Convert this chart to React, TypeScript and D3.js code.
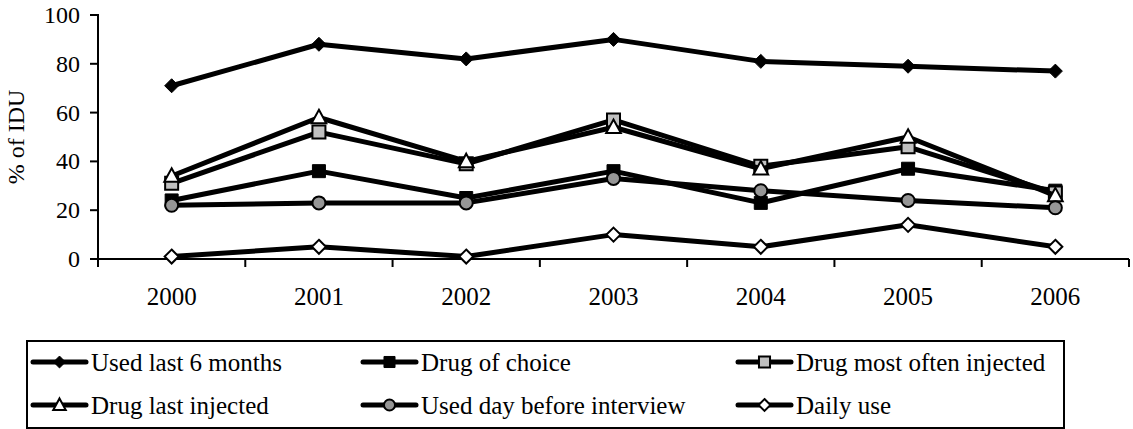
import * as d3 from "d3";

const years = ["2000", "2001", "2002", "2003", "2004", "2005", "2006"];
const yTicks = [0, 20, 40, 60, 80, 100];

const usedLast6Months = [71, 88, 82, 90, 81, 79, 77];
const drugOfChoice = [24, 36, 25, 36, 23, 37, 28];
const drugMostOftenInjected = [31, 52, 39, 57, 38, 46, 27];
const drugLastInjected = [34, 58, 40, 54, 37, 50, 26];
const usedDayBeforeInterview = [22, 23, 23, 33, 28, 24, 21];
const dailyUse = [1, 5, 1, 10, 5, 14, 5];

type Marker = "diamond" | "square" | "triangle" | "circle";

interface Series {
  name: string;
  values: number[];
  marker: Marker;
  fill: string;
}

const series: Series[] = [
  { name: "Used last 6 months", values: usedLast6Months, marker: "diamond", fill: "#000" },
  { name: "Drug of choice", values: drugOfChoice, marker: "square", fill: "#000" },
  { name: "Drug most often injected", values: drugMostOftenInjected, marker: "square", fill: "#c0c0c0" },
  { name: "Drug last injected", values: drugLastInjected, marker: "triangle", fill: "#fff" },
  { name: "Used day before interview", values: usedDayBeforeInterview, marker: "circle", fill: "#969696" },
  { name: "Daily use", values: dailyUse, marker: "diamond", fill: "#fff" },
];

const W = 1133;
const H = 429;
const PLOT = { left: 98, right: 1129, top: 15, bottom: 259 };
const FONT = "Liberation Serif";

// legend placement: three columns, two rows
const LEGEND = { x: 27, y: 341, w: 1037, h: 87 };
const legendCols = [33, 363, 738];
const legendRows = [362, 405];

function markerPath(m: Marker, s: number) {
  if (m === "diamond") {
    return `M0,${-s}L${s},0L0,${s}L${-s},0Z`;
  }
  if (m === "square") {
    return `M${-s},${-s}H${s}V${s}H${-s}Z`;
  }
  if (m === "triangle") {
    const h = s * 1.1;
    return `M0,${-h}L${s * 1.05},${h * 0.75}L${-s * 1.05},${h * 0.75}Z`;
  }
  return d3.arc()({ innerRadius: 0, outerRadius: s, startAngle: 0, endAngle: Math.PI * 2 }) ?? "";
}

function markerSize(m: Marker, legend: boolean) {
  const base = m === "diamond" ? 7 : m === "square" ? 6.5 : m === "triangle" ? 7 : 6.5;
  return legend ? base * 0.85 : base;
}

function MarkerShape({ s, x, y, legend }: { s: Series; x: number; y: number; legend?: boolean }) {
  const filledBlack = s.fill === "#000";
  return (
    <path
      d={markerPath(s.marker, markerSize(s.marker, !!legend))}
      transform={`translate(${x},${y})`}
      fill={s.fill}
      stroke="#000"
      strokeWidth={filledBlack ? 1 : 2}
      strokeLinejoin="miter"
    />
  );
}

export default function App() {
  const x = d3.scaleBand<string>().domain(years).range([PLOT.left, PLOT.right]).padding(0);
  const y = d3.scaleLinear().domain([0, 100]).range([PLOT.bottom, PLOT.top]);
  const cx = (yr: string) => (x(yr) ?? 0) + x.bandwidth() / 2;

  const line = d3
    .line<number>()
    .x((_, i) => cx(years[i]))
    .y((d) => y(d));

  const boundaries = years.map((yr) => x(yr) ?? 0).concat([PLOT.right]);
  const txt = { fontFamily: FONT };

  return (
    <svg width={W} height={H} style={{ position: "absolute", left: 0, top: 0, background: "#fff" }}>
      {/* y axis */}
      <line x1={PLOT.left} x2={PLOT.left} y1={PLOT.top - 1} y2={PLOT.bottom} stroke="#000" strokeWidth={2} />
      {yTicks.map((t) => (
        <g key={t}>
          <line x1={PLOT.left - 8} x2={PLOT.left} y1={y(t)} y2={y(t)} stroke="#000" strokeWidth={2} />
          <text x={80} y={y(t)} dy="0.33em" textAnchor="end" fontSize={24} style={txt}>
            {t}
          </text>
        </g>
      ))}
      <text
        transform={`translate(24,${(PLOT.top + PLOT.bottom) / 2}) rotate(-90)`}
        textAnchor="middle"
        fontSize={24}
        style={txt}
      >
        % of IDU
      </text>

      {/* x axis */}
      <line x1={PLOT.left} x2={PLOT.right} y1={PLOT.bottom} y2={PLOT.bottom} stroke="#000" strokeWidth={2} />
      {boundaries.map((b, i) => (
        <line key={i} x1={b} x2={b} y1={PLOT.bottom} y2={PLOT.bottom + 8} stroke="#000" strokeWidth={2} />
      ))}
      {years.map((yr) => (
        <text key={yr} x={cx(yr)} y={305} textAnchor="middle" fontSize={25} style={txt}>
          {yr}
        </text>
      ))}

      {/* series */}
      {series.map((s) => (
        <g key={s.name}>
          <path d={line(s.values) ?? ""} fill="none" stroke="#000" strokeWidth={5} strokeLinejoin="round" />
          {s.values.map((v, i) => (
            <MarkerShape key={i} s={s} x={cx(years[i])} y={y(v)} />
          ))}
        </g>
      ))}

      {/* legend */}
      <rect x={LEGEND.x} y={LEGEND.y} width={LEGEND.w} height={LEGEND.h} fill="none" stroke="#000" strokeWidth={2} />
      {series.map((s, i) => {
        const lx = legendCols[i % 3];
        const ly = legendRows[Math.floor(i / 3)];
        return (
          <g key={s.name}>
            <line x1={lx} x2={lx + 53} y1={ly} y2={ly} stroke="#000" strokeWidth={5} strokeLinecap="round" />
            <MarkerShape s={s} x={lx + 26.5} y={ly} legend />
            <text x={lx + 58} y={ly} dy="0.35em" fontSize={25} style={txt}>
              {s.name}
            </text>
          </g>
        );
      })}
    </svg>
  );
}
